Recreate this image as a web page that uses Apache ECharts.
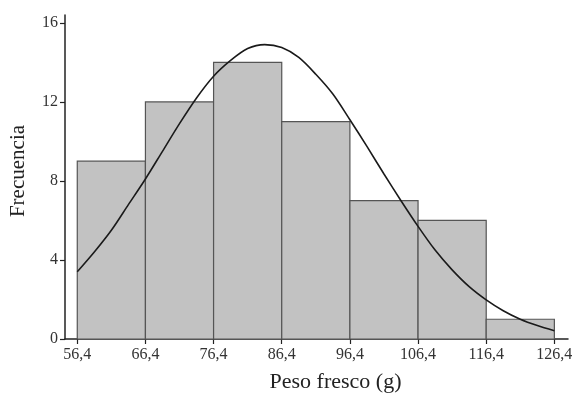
<!DOCTYPE html>
<html>
<head>
<meta charset="utf-8">
<script src="https://cdn.jsdelivr.net/npm/echarts@6/dist/echarts.min.js"></script>
<style>
  html, body { margin: 0; padding: 0; background: #fff; }
  #chart { width: 579px; height: 394px; }
</style>
</head>
<body>
<div id="chart"></div>
<script>
// bin edges and counts
var binStart = [56.4, 66.4, 76.4, 86.4, 96.4, 106.4, 116.4];
var binEnd = [66.4, 76.4, 86.4, 96.4, 106.4, 116.4, 126.4];
var counts = [9, 12, 14, 11, 7, 6, 1];

// fitted curve, every 2.5 units
var curveX = [56.4, 58.9, 61.4, 63.9, 66.4, 68.9, 71.4, 73.9, 76.4, 78.9, 81.4, 83.9,
  86.4, 88.9, 91.4, 93.9, 96.4, 98.9, 101.4, 103.9, 106.4, 108.9, 111.4, 113.9,
  116.4, 118.9, 121.4, 123.9, 126.4];
var curveY = [3.4, 4.4, 5.5, 6.8, 8.1, 9.5, 10.9, 12.2, 13.3, 14.1, 14.7, 14.9,
  14.75, 14.25, 13.4, 12.4, 11.1, 9.75, 8.35, 7.0, 5.7, 4.5, 3.5, 2.65,
  1.98, 1.43, 1.0, 0.68, 0.42];

var xTicks = [56.4, 66.4, 76.4, 86.4, 96.4, 106.4, 116.4, 126.4];
var yTicks = [0, 4, 8, 12, 16];

var font = '"Liberation Serif", "DejaVu Serif", serif';

var bars = binStart.map(function (s, i) { return [s, binEnd[i], counts[i]]; });
var curve = curveX.map(function (x, i) { return [x, curveY[i]]; });

var myChart = echarts.init(document.getElementById('chart'));
var option = {
  animation: false,
  grid: { left: 65, right: 11, top: 15, bottom: 55, outerBoundsMode: 'none' },
  xAxis: {
    type: 'value',
    min: 54.6,
    max: 128.4,
    name: 'Peso fresco (g)',
    nameLocation: 'middle',
    nameGap: 32,
    nameTextStyle: { fontFamily: font, fontSize: 22, color: '#222', padding: [0, 0, 0, 38] },
    splitLine: { show: false },
    axisLine: { lineStyle: { color: '#222', width: 1.5 } },
    axisTick: { show: true, length: 5, lineStyle: { color: '#222', width: 1.2 }, customValues: xTicks },
    axisLabel: {
      customValues: xTicks,
      margin: 8,
      fontFamily: font,
      fontSize: 16,
      color: '#333',
      formatter: function (v) { return v.toFixed(1).replace('.', ','); }
    }
  },
  yAxis: {
    type: 'value',
    min: 0,
    max: 16.4,
    name: 'Frecuencia',
    nameLocation: 'middle',
    nameGap: 36,
    nameTextStyle: { fontFamily: font, fontSize: 21, color: '#222', padding: [0, 0, 0, 12] },
    splitLine: { show: false },
    axisLine: { show: true, lineStyle: { color: '#222', width: 1.5 } },
    axisTick: { show: true, length: 5, lineStyle: { color: '#222', width: 1.2 }, customValues: yTicks },
    axisLabel: { customValues: yTicks, margin: 7, fontFamily: font, fontSize: 16, color: '#333' }
  },
  series: [
    {
      type: 'custom',
      data: bars,
      renderItem: function (params, api) {
        var p0 = api.coord([api.value(0), api.value(2)]);
        var p1 = api.coord([api.value(1), 0]);
        return {
          type: 'rect',
          shape: { x: p0[0], y: p0[1], width: p1[0] - p0[0], height: p1[1] - p0[1] },
          style: { fill: '#c2c2c2', stroke: '#555', lineWidth: 1.2 }
        };
      },
      z: 1
    },
    {
      type: 'line',
      data: curve,
      smooth: 0.3,
      showSymbol: false,
      lineStyle: { color: '#1a1a1a', width: 1.6 },
      z: 3
    }
  ]
};
myChart.setOption(option);
window.addEventListener('resize', function () {
  myChart.resize();
});
</script>
</body>
</html>
